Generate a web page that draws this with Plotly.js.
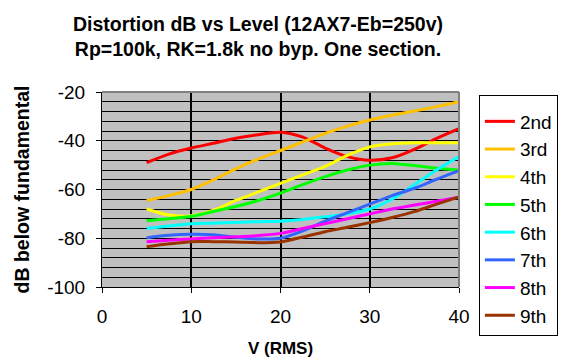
<!DOCTYPE html>
<html>
<head>
<meta charset="utf-8">
<script src="https://cdn.plot.ly/plotly-3.0.1.min.js"></script>
<style>html,body{margin:0;padding:0;background:#fff;}#chart{width:564px;height:360px;}</style>
</head>
<body>
<div id="chart"></div>
<script>
// Data
const voltsRMS = [5, 7.5, 10, 12.5, 15, 17.5, 20, 22.5, 25, 27.5, 30, 32.5, 35, 37.5, 40];
const harmonicNames = ["2nd", "3rd", "4th", "5th", "6th", "7th", "8th", "9th"];
const h2 = [-49, -45.5, -43, -41, -39, -37.5, -36.5, -38.5, -43, -46.5, -48, -47, -43.5, -39, -35];
const h3 = [-64.5, -62.5, -60, -56, -51.5, -47.5, -44, -40.5, -37, -34, -31.5, -29.5, -27.8, -26, -24];
const h4 = [-68, -70.5, -70.8, -68.5, -64.5, -61, -57.5, -54, -50.5, -46, -42.5, -41.2, -40.8, -40.8, -40.8];
const h5 = [-72.8, -72, -71, -69, -67, -64.5, -61.5, -58, -54.7, -52, -50, -49.3, -50.2, -51.3, -52];
const h6 = [-76, -75, -74, -73.8, -73.5, -73.2, -73, -72.3, -71.2, -70, -68, -64, -58, -52, -46.5];
const h7 = [-79.8, -78.8, -78.4, -78.6, -79.6, -80.3, -80, -77, -73, -69.5, -66, -62.5, -59.5, -55.8, -52.3];
const h8 = [-81.4, -80.8, -80.3, -79.8, -79.4, -78.9, -78, -76, -74, -72, -70, -68, -66.4, -64.8, -63.2];
const h9 = [-83.5, -82.3, -81.4, -81.4, -81.5, -81.8, -81.5, -79.5, -77.3, -75.5, -73.6, -71.5, -69.1, -66, -63];
const seriesValues = [h2, h3, h4, h5, h6, h7, h8, h9];
const xTickVals = [0, 10, 20, 30, 40];
const yTickVals = [-100, -80, -60, -40, -20];

const colors = ["#FF0000", "#FFC000", "#FFFF00", "#00FF00", "#00FFFF", "#3366FF", "#FF00FF", "#993300"];
const FONT = "Liberation Sans, Arial, sans-serif";

const traces = seriesValues.map((ys, i) => ({
  x: voltsRMS,
  y: ys,
  name: harmonicNames[i],
  type: "scatter",
  mode: "lines",
  line: {color: colors[i], width: 3, shape: "spline", smoothing: 0.8}
}));

const layout = {
  width: 564,
  height: 360,
  margin: {l: 102, r: 105, t: 92, b: 73, pad: 0, autoexpand: false},
  paper_bgcolor: "#FFFFFF",
  plot_bgcolor: "#C0C0C0",
  font: {family: FONT, color: "#000", size: 19},
  title: {
    text: "<b>Distortion dB vs Level (12AX7-Eb=250v)<br>Rp=100k, RK=1.8k no byp. One section.</b>",
    font: {family: FONT, size: 19.5, color: "#000"},
    xref: "paper", x: 0.437, xanchor: "center",
    yref: "container", y: 0.914, yanchor: "middle"
  },
  xaxis: {
    range: [0, 40],
    tickvals: xTickVals,
    ticktext: xTickVals.map(String),
    showgrid: true, gridcolor: "#000", gridwidth: 2,
    showline: true, linecolor: "#000", linewidth: 1,
    ticks: "outside", ticklen: 5, tickcolor: "#000", tickwidth: 1,
    ticklabelstandoff: 7,
    zeroline: false,
    tickfont: {family: FONT, size: 19},
    title: {text: "<b>V (RMS)</b>", font: {family: FONT, size: 17}, standoff: 16}
  },
  yaxis: {
    range: [-100, -20],
    tickvals: yTickVals,
    ticktext: yTickVals.map(String),
    showgrid: true, gridcolor: "#000", gridwidth: 1,
    minor: {dtick: 4, tick0: -100, showgrid: true, gridcolor: "#000", gridwidth: 1, ticks: ""},
    showline: true, linecolor: "#000", linewidth: 1,
    ticks: "outside", ticklen: 5, tickcolor: "#000", tickwidth: 1,
    ticklabelstandoff: 7,
    zeroline: false,
    tickfont: {family: FONT, size: 19},
    title: {text: "<b>dB below fundamental</b>", font: {family: FONT, size: 19.5}, standoff: 12}
  },
  legend: {
    xref: "paper", x: 1.277, xanchor: "right",
    yref: "container", y: 1 - 95 / 360, yanchor: "top",
    maxheight: 300,
    bgcolor: "#FFFFFF", bordercolor: "#000", borderwidth: 1,
    font: {family: FONT, size: 19},
    title: {text: "&nbsp;", font: {family: FONT, size: 5}},
    tracegroupgap: 0,
    itemwidth: 30
  },
  shapes: [
    {type: "line", xref: "paper", yref: "paper", x0: 0, x1: 1, y0: 1, y1: 1, line: {color: "#808080", width: 2}, layer: "above"},
    {type: "line", xref: "paper", yref: "paper", x0: 1, x1: 1, y0: 0, y1: 1, line: {color: "#808080", width: 2}, layer: "above"}
  ],
  showlegend: true
};

Plotly.newPlot("chart", traces, layout, {displayModeBar: false, staticPlot: true});
</script>
</body>
</html>
